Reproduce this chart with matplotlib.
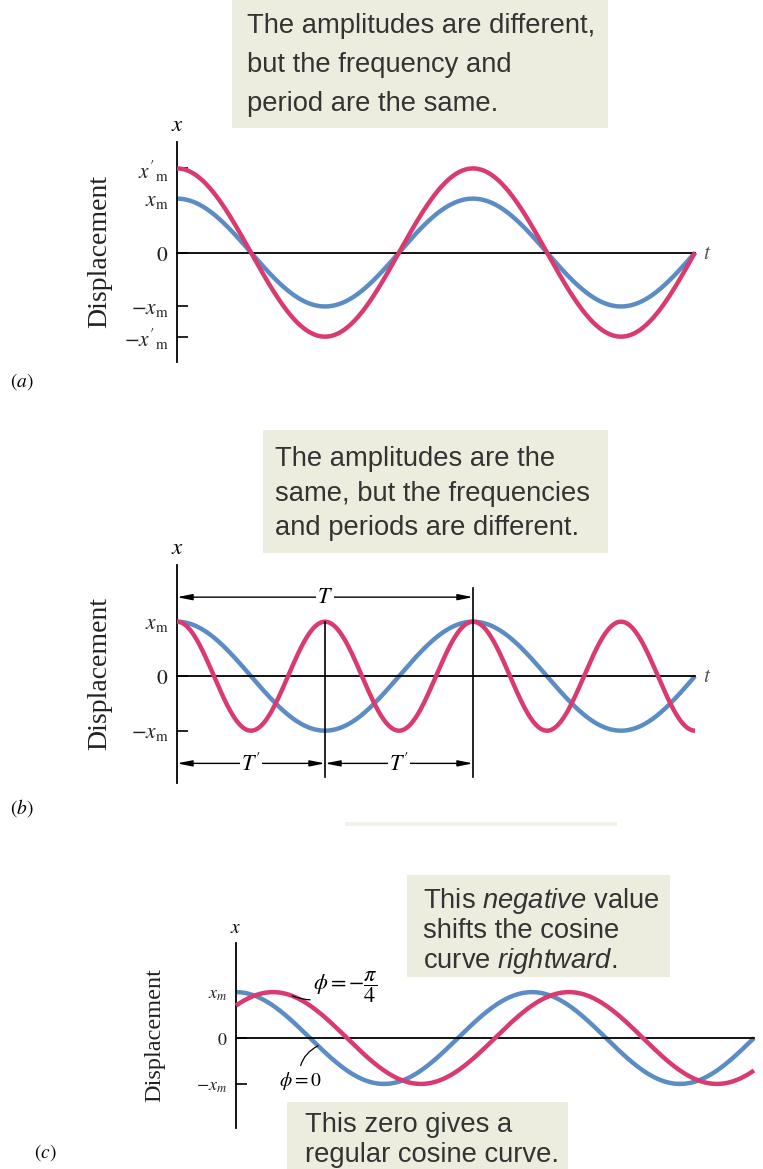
import numpy as np
import matplotlib
matplotlib.use("Agg")
import matplotlib.pyplot as plt
from matplotlib.patches import Rectangle

# ---------------- DATA ----------------
# Panel (a): amplitudes differ, same period (units: x_m, T)
a_amplitudes = [1.0, 1.56]          # blue x_m, red x'_m
a_periods = [1.0, 1.0]
a_phases = [0.0, 0.0]
a_t_end = 1.75
a_ticks = [1.56, 1.0, 0.0, -1.0, -1.56]
a_tick_labels = [r"$x'_{\rm m}$", r"$x_{\rm m}$", r"$0$", r"$-x_{\rm m}$", r"$-x'_{\rm m}$"]

# Panel (b): same amplitude, different periods
b_amplitudes = [1.0, 1.0]           # blue (T), red (T')
b_periods = [1.0, 0.5]
b_phases = [0.0, 0.0]
b_t_end = 1.75
b_ticks = [1.0, 0.0, -1.0]
b_tick_labels = [r"$x_{\rm m}$", r"$0$", r"$-x_{\rm m}$"]

# Panel (c): same amplitude and period, different phase
c_amplitudes = [1.0, 1.0]           # blue phi=0, red phi=-pi/4
c_periods = [1.0, 1.0]
c_phases = [0.0, -np.pi / 4]
c_t_end = 1.75
c_ticks = [1.0, 0.0, -1.0]
c_tick_labels = [r"$x_m$", r"$0$", r"$-x_m$"]

box_a = ["The amplitudes are different,", "but the frequency and", "period are the same."]
box_b = ["The amplitudes are the", "same, but the frequencies", "and periods are different."]
box_c1 = [r"This $\mathit{negative}$ value", "shifts the cosine", r"curve $\mathit{rightward}$."]
box_c2 = ["This zero gives a", "regular cosine curve."]

# ---------------- STYLE ----------------
BLUE = "#5b8cc4"
RED = "#d93a6f"
BOXC = "#ededdf"
TXTC = "#333333"
plt.rcParams["mathtext.fontset"] = "custom"
plt.rcParams["mathtext.rm"] = "Liberation Sans"
plt.rcParams["mathtext.it"] = "Liberation Sans:italic"
plt.rcParams["mathtext.bf"] = "Liberation Sans:bold"

W, H = 763, 1169
fig = plt.figure(figsize=(W / 100, H / 100), dpi=100)


def px_axes(left, top, right, bottom):
    return fig.add_axes([left / W, 1 - bottom / H, (right - left) / W, (bottom - top) / H])


def curve(ax, amp, per, ph, t_end, color, lw=3.2, z=2):
    t = np.linspace(0, t_end, 800)
    ax.plot(t, amp * np.cos(2 * np.pi * t / per + ph), color=color, lw=lw,
            solid_capstyle="butt", clip_on=False, zorder=z)


def setup(ax, t_end, ylim, ticks, labels, fs, dfs, disp_x, show_t=True):
    ax.set_xlim(0, t_end)
    ax.set_ylim(*ylim)
    ax.patch.set_alpha(0)
    for s in ["top", "right"]:
        ax.spines[s].set_visible(False)
    ax.spines["bottom"].set_position(("data", 0))
    ax.spines["left"].set_linewidth(1.3)
    ax.spines["bottom"].set_linewidth(1.3)
    ax.set_xticks([])
    ax.set_yticks(ticks)
    ax.set_yticklabels(labels, math_fontfamily="stix", color="#222222")
    ax.tick_params(axis="y", direction="in", length=8, width=1.2, pad=6, labelsize=fs)
    ax.annotate("$x$", xy=(0, 1), xycoords="axes fraction", xytext=(0, 4),
                textcoords="offset points", ha="center", va="bottom",
                fontsize=fs + 1, math_fontfamily="stix")
    if show_t:
        ax.annotate("$t$", xy=(1, 0), xycoords=ax.get_yaxis_transform(), xytext=(6, 0),
                    textcoords="offset points", ha="left", va="center",
                    fontsize=fs, math_fontfamily="stix", color="#555555")
    fig.text(disp_x / W, 0.5 * (ax.get_position().y0 + ax.get_position().y1),
             "Displacement", rotation=90, ha="center", va="center",
             family="Liberation Serif", fontsize=dfs, color="#222222")


def textbox(left, top, right, bottom, text_left, baselines, lines, fs=19.7):
    fig.add_artist(Rectangle((left / W, 1 - bottom / H), (right - left) / W, (bottom - top) / H,
                             transform=fig.transFigure, facecolor=BOXC, edgecolor="none", zorder=0))
    for y, s in zip(baselines, lines):
        fig.text(text_left / W, 1 - y / H, s, ha="left", va="baseline", fontsize=fs,
                 family="Liberation Sans", color=TXTC, math_fontfamily="custom")


# ---------------- Panel (a) ----------------
textbox(232, 0, 608, 128, 247, [33, 72, 111], box_a)
ax_a = px_axes(177, 142, 177 + 296 * a_t_end, 362)
setup(ax_a, a_t_end, (-2.03, 2.05), a_ticks, a_tick_labels, 15.5, 20, 100)
curve(ax_a, a_amplitudes[0], a_periods[0], a_phases[0], a_t_end, BLUE)
curve(ax_a, a_amplitudes[1], a_periods[1], a_phases[1], a_t_end, RED, z=3)
fig.text(22 / W, 1 - 382 / H, "$(a)$", ha="center", va="center", fontsize=14,
         math_fontfamily="stix")

# ---------------- Panel (b) ----------------
textbox(263, 430, 608, 553, 275, [466, 501, 535], box_b)
ax_b = px_axes(177, 565, 177 + 296 * b_t_end, 783)
setup(ax_b, b_t_end, (-1.96, 2.04), b_ticks, b_tick_labels, 15.5, 20, 100)
curve(ax_b, b_amplitudes[0], b_periods[0], b_phases[0], b_t_end, BLUE)
curve(ax_b, b_amplitudes[1], b_periods[1], b_phases[1], b_t_end, RED, z=3)
T, Tp = b_periods
y_T, y_Tp, y_bot = 1.45, -1.6, -1.85
ax_b.plot([T, T], [1.62, y_bot], color="k", lw=1.2, clip_on=False, zorder=4)
ax_b.plot([Tp, Tp], [b_amplitudes[1], y_bot], color="k", lw=1.2, clip_on=False, zorder=4)
aprops = dict(arrowstyle="<|-|>,head_length=0.9,head_width=0.18", color="k", lw=1.0,
              shrinkA=0, shrinkB=0)
ax_b.annotate("", xy=(T, y_T), xytext=(0, y_T), arrowprops=aprops, annotation_clip=False)
ax_b.annotate("", xy=(Tp, y_Tp), xytext=(0, y_Tp), arrowprops=aprops, annotation_clip=False)
ax_b.annotate("", xy=(2 * Tp, y_Tp), xytext=(Tp, y_Tp), arrowprops=aprops, annotation_clip=False)
lblkw = dict(ha="center", va="center", fontsize=16, math_fontfamily="stix", zorder=5,
             bbox=dict(facecolor="white", edgecolor="none", pad=1.0))
ax_b.text(T / 2, y_T, "$T$", **lblkw)
ax_b.text(Tp / 2, y_Tp, r"$T^{\prime}$", **lblkw)
ax_b.text(1.5 * Tp, y_Tp, r"$T^{\prime}$", **lblkw)
fig.text(22 / W, 1 - 808 / H, "$(b)$", ha="center", va="center", fontsize=14,
         math_fontfamily="stix")

# faint strip (remnant of a box edge)
fig.add_artist(Rectangle((345 / W, 1 - 826 / H), (617 - 345) / W, 4 / H,
                         transform=fig.transFigure, facecolor="#f2f2ea", edgecolor="none"))

# ---------------- Panel (c) ----------------
textbox(407, 875, 670, 977, 423, [908, 938, 968], box_c1)
textbox(287, 1102, 568, 1169, 305, [1132, 1162], box_c2)
ax_c = px_axes(236, 943, 236 + 296 * c_t_end, 1128)
setup(ax_c, c_t_end, (-1.96, 2.07), c_ticks, c_tick_labels, 13, 17.5, 155, show_t=False)
curve(ax_c, c_amplitudes[0], c_periods[0], c_phases[0], c_t_end, BLUE)
curve(ax_c, c_amplitudes[1], c_periods[1], c_phases[1], c_t_end, RED, z=3)
t1 = 0.19
y1 = c_amplitudes[1] * np.cos(2 * np.pi * t1 / c_periods[1] + c_phases[1])
ax_c.annotate(r"$\phi = -\dfrac{\pi}{4}$", xy=(t1, y1), xytext=(0.26, 1.12),
              ha="left", va="center", fontsize=16, math_fontfamily="stix",
              arrowprops=dict(arrowstyle="-", color="k", lw=0.9, shrinkA=0, shrinkB=0,
                              connectionstyle="arc3,rad=-0.3"),
              annotation_clip=False, zorder=5)
t0 = 0.277
y0 = c_amplitudes[0] * np.cos(2 * np.pi * t0 / c_periods[0] + c_phases[0])
ax_c.annotate(r"$\phi = 0$", xy=(t0, y0), xytext=(0.216, -0.93),
              ha="center", va="center", fontsize=14, math_fontfamily="stix",
              arrowprops=dict(arrowstyle="-", color="k", lw=0.9, shrinkA=1, shrinkB=0,
                              connectionstyle="arc3,rad=-0.35"),
              annotation_clip=False, zorder=5)
fig.text(45 / W, 1 - 1153 / H, "$(c)$", ha="center", va="center", fontsize=14,
         math_fontfamily="stix")

fig.savefig("out.png", dpi=100)
